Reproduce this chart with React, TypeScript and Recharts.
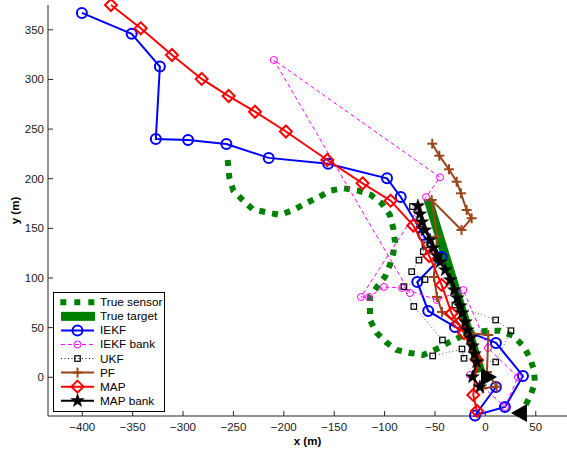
import React from 'react';
import { ScatterChart, Scatter, XAxis, YAxis, Legend } from 'recharts';

type P = [number, number];

const xTicks = [-400, -350, -300, -250, -200, -150, -100, -50, 0, 50];
const yTicks = [0, 50, 100, 150, 200, 250, 300, 350];

const trueSensor: P[] = [
  [-255.7, 218.9], [-254.1, 201.4], [-250.1, 188], [-240.8, 178.6], [-230.9, 169.2],
  [-217, 166.2], [-203.8, 163.5], [-190.6, 168.5], [-178, 175.3], [-165.8, 181.3],
  [-153.5, 188], [-141, 190.4], [-126.1, 188], [-113.5, 183.6], [-102.9, 175.3],
  [-94.7, 163.5], [-91.4, 150.1], [-89.7, 136.6], [-91.4, 124.9], [-94.7, 113.1],
  [-99.6, 101.3], [-107.6, 91], [-114.5, 81.2], [-114.5, 71.1], [-114.5, 57.7],
  [-107.9, 44.9], [-97.9, 34.9], [-88, 27.5], [-74.8, 24.5], [-61.6, 22.5],
  [-48.3, 28.5], [-36.8, 34.9], [-25.2, 40.6], [-12.3, 44.6], [1.3, 46.9],
  [14.5, 46.9], [27.7, 41.6], [37.6, 31.5], [44.3, 19.4], [48.2, 7.4],
  [49.2, -6], [44.3, -19.5], [38.3, -30.9],
];
const trueTarget: P[] = [[-57, 179.8], [-4.4, 5.3]];
const iekf: P[] = [
  [-400.4, 367], [-351, 346], [-323, 313], [-327, 240], [-295, 239], [-257, 235],
  [-215, 221], [-156, 215], [-97.6, 200.4], [-84, 181.6], [-61.6, 143.3], [-43.4, 121.2],
  [-67.6, 96], [-56.7, 66.8], [-30.2, 50.7], [10.5, 34.6], [37.3, 1.3], [19.4, -29.9],
  [-10.3, -38.5], [10.5, -9.8],
];
const iekfBank: P[] = [
  [-74.8, 84.9], [-209.9, 319.6], [-45, 201.5], [-58.9, 181.4], [-123.4, 80.9],
  [-115.5, 80.9], [-100.6, 91], [-82.7, 89.9], [-48.3, 77.9], [-21.9, 87.9],
  [2.6, 29.5], [32.3, 0.3], [19.4, -29.9], [-15.3, 2.3],
];
const ukf: P[] = [
  [-72.3, 172], [-65.6, 149.1], [-59.9, 133.3], [-61.6, 126.5], [-65.9, 118],
  [-73.1, 106.4], [-59.9, 98.5], [-80.8, 91.3], [-71, 71.3], [-42.6, 37.6],
  [-52.3, 21.5], [-23.2, 28.5], [-21.2, 19.1], [10.2, 15.4], [25.4, 46.9],
  [10.2, 57.7], [-30.2, 72.8],
];
const pf: P[] = [
  [-52.7, 235.3], [-45.7, 223.2], [-36.1, 209.5], [-28.5, 197], [-24.2, 185.3],
  [-18.6, 168.5], [-13.6, 160.2], [-23.7, 148.4], [-53.3, 178.6], [-48, 141.5],
  [-51, 101], [-48, 81], [-43, 65.8], [-15.3, 44.3], [2.9, 42.6], [1.6, 5.4],
  [11.2, -9.5], [-2.7, -11.1],
];
const mapEst: P[] = [
  [-371.5, 375], [-342, 351.5], [-311, 324.6], [-281.5, 300.5], [-254.7, 283.3],
  [-228.6, 267.5], [-197.9, 247.6], [-156.9, 218.9], [-121.8, 195.4], [-94, 177.9],
  [-71.5, 152.9], [-55.7, 122.2], [-43.4, 93], [-33.5, 64.5], [-26.7, 54.2],
  [-21.2, 44.6], [-8.3, 17.4], [-12, -17.8], [-8.3, -33.9],
];
const mapBank: P[] = [
  [-66.9, 172.5], [-64.9, 164.4], [-62.9, 156.4], [-59.9, 148.3], [-54.9, 138.3],
  [-51.9, 130.2], [-47.9, 122.2], [-44.9, 116.1], [-39.9, 108.1], [-34.9, 98],
  [-30.9, 87.9], [-27.8, 79.9], [-24.8, 71.8], [-22.8, 64.8], [-19.7, 55.7],
  [-17.7, 47.6], [-14.7, 39.6], [-12.7, 31.5], [-10.7, 23.5], [-8.7, 15.4],
  [-12.7, 0.3], [-5.4, -9.8],
];
const sensorEnd: P[] = [[35.3, -35.9]];
const targetEnd: P[] = [[2.6, 0.3]];

const legendLabels = ['True sensor', 'True target', 'IEKF', 'IEKF bank', 'UKF', 'PF', 'MAP', 'MAP bank'];

const GREEN = '#008000';
const BLUE = '#0000ff';
const MAGENTA = '#ff00ff';
const RED = '#ff0000';
const BROWN = '#99471a';
const BLACK = '#000000';
const FONT = '"Liberation Sans", Arial, Helvetica, sans-serif';

const rows = (pts: P[]) => pts.map(([x, y]) => ({ x, y }));

const drawCircle = (cx: number, cy: number, r: number, c: string, sw: number) => (
  <circle cx={cx} cy={cy} r={r} fill="none" stroke={c} strokeWidth={sw} />
);
const drawDiamond = (cx: number, cy: number, h: number, c: string, sw: number) => (
  <polygon points={`${cx},${cy - h} ${cx + h},${cy} ${cx},${cy + h} ${cx - h},${cy}`} fill="none" stroke={c} strokeWidth={sw} />
);
const drawSquare = (cx: number, cy: number, s: number, c: string, sw: number) => (
  <rect x={cx - s / 2} y={cy - s / 2} width={s} height={s} fill="none" stroke={c} strokeWidth={sw} />
);
const drawPlus = (cx: number, cy: number, s: number, c: string, sw: number) => (
  <g stroke={c} strokeWidth={sw}>
    <line x1={cx - s} y1={cy} x2={cx + s} y2={cy} />
    <line x1={cx} y1={cy - s} x2={cx} y2={cy + s} />
  </g>
);
const drawStar = (cx: number, cy: number, R: number, c: string) => {
  const pts: string[] = [];
  for (let i = 0; i < 10; i++) {
    const a = -Math.PI / 2 + (i * Math.PI) / 5;
    const rr = i % 2 === 0 ? R : R * 0.4;
    pts.push(`${cx + rr * Math.cos(a)},${cy + rr * Math.sin(a)}`);
  }
  return <polygon points={pts.join(' ')} fill={c} stroke={c} strokeWidth={0.5} />;
};

const noShape = () => <g />;
const iekfShape = (p: any) => drawCircle(p.cx, p.cy, 5, BLUE, 2);
const bankShape = (p: any) => drawCircle(p.cx, p.cy, 3.5, MAGENTA, 1);
const ukfShape = (p: any) => drawSquare(p.cx, p.cy, 5.5, BLACK, 1.2);
const pfShape = (p: any) => drawPlus(p.cx, p.cy, 5, BROWN, 2);
const mapShape = (p: any) => drawDiamond(p.cx, p.cy, 6, RED, 2);
const mapBankShape = (p: any) => drawStar(p.cx, p.cy, 7, BLACK);
const leftTri = (p: any) => (
  <polygon points={`${p.cx - 10},${p.cy} ${p.cx + 6},${p.cy - 9} ${p.cx + 6},${p.cy + 9}`} fill={BLACK} />
);
const rightTri = (p: any) => (
  <polygon points={`${p.cx + 9},${p.cy} ${p.cx - 7},${p.cy - 9} ${p.cx - 7},${p.cy + 9}`} fill={BLACK} />
);

const XTick = (props: any) => {
  const { x, y, payload } = props;
  const v = payload.value;
  const label = v < 0 ? `\u2212${Math.abs(v)}` : `${v}`;
  return (
    <g>
      <line x1={x} y1={y} x2={x} y2={y - 5} stroke="#262626" strokeWidth={1} />
      <text x={x} y={y + 15} textAnchor="middle" fontFamily={FONT} fontSize={11.5} fill="#1a1a1a">{label}</text>
    </g>
  );
};
const YTick = (props: any) => {
  const { x, y, payload } = props;
  return (
    <g>
      <line x1={x} y1={y} x2={x + 5} y2={y} stroke="#262626" strokeWidth={1} />
      <text x={x - 4} y={y + 4} textAnchor="end" fontFamily={FONT} fontSize={11.5} fill="#1a1a1a">{payload.value}</text>
    </g>
  );
};

const LegendBox = () => {
  const rowY = (i: number) => 10.3 + i * 14.06;
  const x1 = 8;
  const x2 = 41;
  const mx = 24.5;
  return (
    <svg width={113} height={121} style={{ display: 'block' }}>
      <rect x={0.5} y={0.5} width={111} height={119} fill="#fff" stroke={BLACK} strokeWidth={1} />
      <line x1={7.3} y1={rowY(0)} x2={41.3} y2={rowY(0)} stroke={GREEN} strokeWidth={6} strokeDasharray="6 8" />
      <rect x={x1} y={rowY(1) - 4.5} width={34} height={9} fill={GREEN} />
      <line x1={x1} y1={rowY(2)} x2={x2} y2={rowY(2)} stroke={BLUE} strokeWidth={2} />
      {drawCircle(mx, rowY(2), 5, BLUE, 2)}
      <line x1={x1} y1={rowY(3)} x2={x2} y2={rowY(3)} stroke={MAGENTA} strokeWidth={1} strokeDasharray="4 3" />
      {drawCircle(mx, rowY(3), 3.5, MAGENTA, 1)}
      <line x1={x1} y1={rowY(4)} x2={x2} y2={rowY(4)} stroke={BLACK} strokeWidth={1} strokeDasharray="1 2.5" />
      {drawSquare(mx, rowY(4), 5.5, BLACK, 1.2)}
      <line x1={x1} y1={rowY(5)} x2={x2} y2={rowY(5)} stroke={BROWN} strokeWidth={2} />
      {drawPlus(mx, rowY(5), 5, BROWN, 2)}
      <line x1={x1} y1={rowY(6)} x2={x2} y2={rowY(6)} stroke={RED} strokeWidth={2} />
      {drawDiamond(mx, rowY(6), 6, RED, 2)}
      <line x1={x1} y1={rowY(7)} x2={x2} y2={rowY(7)} stroke={BLACK} strokeWidth={2} />
      {drawStar(mx, rowY(7), 7, BLACK)}
      {legendLabels.map((t, i) => (
        <text key={t} x={47} y={rowY(i) + 4} fontFamily={FONT} fontSize={11.8} fill="#000">{t}</text>
      ))}
    </svg>
  );
};

export default function App() {
  return (
    <div style={{ position: 'absolute', left: 0, top: 0, width: 567, height: 453, background: '#fff' }}>
      <ScatterChart width={567} height={453} margin={{ top: 5, right: 0, bottom: 0, left: 0 }}>
        <XAxis
          type="number"
          dataKey="x"
          domain={[-434, 81]}
          ticks={xTicks}
          height={37}
          tickSize={0}
          tickMargin={0}
          tickLine={false}
          tick={<XTick />}
          axisLine={{ stroke: '#262626', strokeWidth: 1 }}
          interval={0}
          label={(p: any) => {
            const vb = p.viewBox || { x: 48, y: 416, width: 519 };
            return (
              <text x={vb.x + vb.width / 2} y={vb.y + 29} textAnchor="middle" fontFamily={FONT} fontSize={11.5} fontWeight="bold" fill="#000">x (m)</text>
            );
          }}
        />
        <YAxis
          type="number"
          dataKey="y"
          domain={[-39, 375]}
          ticks={yTicks}
          width={48}
          tickSize={0}
          tickMargin={0}
          tickLine={false}
          tick={<YTick />}
          axisLine={{ stroke: '#262626', strokeWidth: 1 }}
          interval={0}
          label={(p: any) => {
            const vb = p.viewBox || { x: 0, y: 5, height: 411 };
            const cy = vb.y + vb.height / 2;
            return (
              <text x={19} y={cy} transform={`rotate(-90 19 ${cy})`} textAnchor="middle" fontFamily={FONT} fontSize={11.5} fontWeight="bold" fill="#000">y (m)</text>
            );
          }}
        />
        <Scatter
          data={rows(trueSensor)}
          fill={GREEN}
          line={{ stroke: GREEN, strokeWidth: 6, strokeDasharray: '6 7', strokeLinecap: 'butt' }}
          lineJointType="linear"
          shape={noShape}
          isAnimationActive={false}
        />
        <Scatter
          data={rows(trueTarget)}
          fill={GREEN}
          line={{ stroke: GREEN, strokeWidth: 9 }}
          lineJointType="linear"
          shape={noShape}
          isAnimationActive={false}
        />
        <Scatter
          data={rows(iekf)}
          fill={BLUE}
          line={{ stroke: BLUE, strokeWidth: 2 }}
          lineJointType="linear"
          shape={iekfShape}
          isAnimationActive={false}
        />
        <Scatter
          data={rows(iekfBank)}
          fill={MAGENTA}
          line={{ stroke: MAGENTA, strokeWidth: 1, strokeDasharray: '4 3' }}
          lineJointType="linear"
          shape={bankShape}
          isAnimationActive={false}
        />
        <Scatter
          data={rows(ukf)}
          fill={BLACK}
          line={{ stroke: '#555', strokeWidth: 1, strokeDasharray: '1 2.5' }}
          lineJointType="linear"
          shape={ukfShape}
          isAnimationActive={false}
        />
        <Scatter
          data={rows(pf)}
          fill={BROWN}
          line={{ stroke: BROWN, strokeWidth: 2 }}
          lineJointType="linear"
          shape={pfShape}
          isAnimationActive={false}
        />
        <Scatter
          data={rows(mapEst)}
          fill={RED}
          line={{ stroke: RED, strokeWidth: 2 }}
          lineJointType="linear"
          shape={mapShape}
          isAnimationActive={false}
        />
        <Scatter
          data={rows(mapBank)}
          fill={BLACK}
          line={{ stroke: BLACK, strokeWidth: 2 }}
          lineJointType="linear"
          shape={mapBankShape}
          isAnimationActive={false}
        />
        <Scatter data={rows(sensorEnd)} fill={BLACK} shape={leftTri} isAnimationActive={false} />
        <Scatter data={rows(targetEnd)} fill={BLACK} shape={rightTri} isAnimationActive={false} />
        <Legend
          layout="vertical"
          align="center"
          verticalAlign="middle"
          wrapperStyle={{ left: 53, top: 292, width: 113, height: 121 }}
          content={() => <LegendBox />}
        />
      </ScatterChart>
    </div>
  );
}
